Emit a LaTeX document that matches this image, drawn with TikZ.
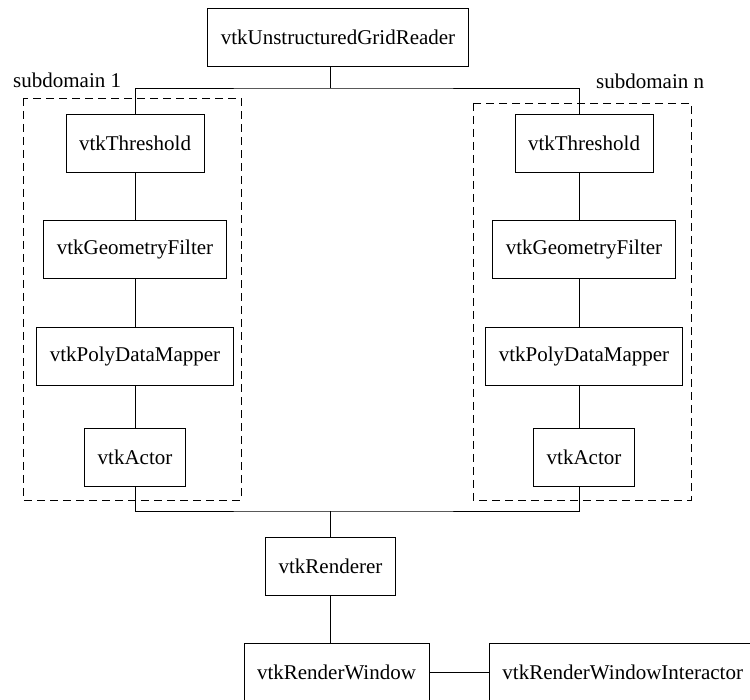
\documentclass[tikz,border=0pt]{standalone}
\usepackage{fontspec}
\setmainfont{Liberation Serif}
\usetikzlibrary{positioning}
\tikzset{
  vtkbox/.style={
      draw,
      rectangle,
      line width=0.9pt,
      minimum height=58pt,
      inner xsep=13pt,
      align=center,
      font=\fontsize{21}{25}\selectfont
  },
  subdomain/.style={
      draw,
      line width=0.9pt,
      dash pattern=on 8pt off 5pt
  },
  sublabel/.style={
      inner sep=0pt,
      anchor=base west,
      font=\fontsize{21}{25}\selectfont
  },
  link/.style={line width=0.9pt}
}

\begin{document}
\begin{tikzpicture}[x=1pt, y=-1pt, node distance=48pt]
      \path[use as bounding box, clip] (0,0) rectangle (750,700);

      % Reader on top
      \node (ugr) [vtkbox] at (338,37) {vtkUnstructuredGridReader};

      % Pipeline of subdomain 1
      \node (thr1) [vtkbox] at (135,143) {vtkThreshold};
      \node (geo1) [vtkbox, below=of thr1] {vtkGeometryFilter};
      \node (pdm1) [vtkbox, below=of geo1] {vtkPolyDataMapper};
      \node (act1) [vtkbox, below=42pt of pdm1] {vtkActor};

      % Pipeline of subdomain n
      \node (thr2) [vtkbox] at (584,143) {vtkThreshold};
      \node (geo2) [vtkbox, below=of thr2] {vtkGeometryFilter};
      \node (pdm2) [vtkbox, below=of geo2] {vtkPolyDataMapper};
      \node (act2) [vtkbox, below=42pt of pdm2] {vtkActor};

      % Subdomain frames
      \draw[subdomain] (23,98) rectangle (241,500);
      \draw[subdomain] (473,103) rectangle (691,500);
      \node (sub1) [sublabel] at (13,88) {subdomain 1};
      \node (subn) [sublabel] at (596,89) {subdomain n};

      % Rendering
      \node (ren) [vtkbox] at (330.5,566) {vtkRenderer};
      \node (win) [vtkbox] at (336.5,672) {vtkRenderWindow};
      \node (iact) [vtkbox, anchor=west] at (489,672) {vtkRenderWindowInteractor};

      % Bus lines
      \coordinate (topbus) at (330,88);
      \coordinate (botbus) at (330,511);
      \coordinate (rcol) at (579,0);

      % Connections
      \draw[link] (ugr.south -| topbus) -- (topbus);
      \draw[link] (thr1.north) |- (topbus) -| (thr2.north -| rcol);
      \draw[link] (thr1) -- (geo1);
      \draw[link] (geo1) -- (pdm1);
      \draw[link] (pdm1) -- (act1);
      \draw[link] (thr2.south -| rcol) -- (geo2.north -| rcol);
      \draw[link] (geo2.south -| rcol) -- (pdm2.north -| rcol);
      \draw[link] (pdm2.south -| rcol) -- (act2.north -| rcol);
      \draw[link] (act1.south) |- (botbus) -| (act2.south -| rcol);
      \draw[link] (botbus) -- (ren.north -| botbus);
      \draw[link] (ren.south -| botbus) -- (win.north -| botbus);
      \draw[link] (win) -- (iact);
    \end{tikzpicture}
\end{document}
